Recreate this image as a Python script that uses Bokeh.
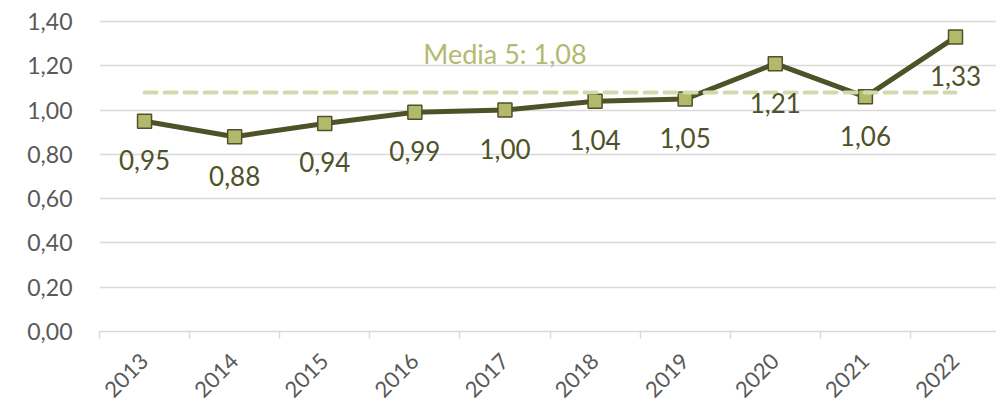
from bokeh.plotting import figure
from bokeh.models import Range1d, FixedTicker, ColumnDataSource, Label
from bokeh.core.properties import value
from bokeh.embed import file_html
from bokeh.resources import INLINE
import math

years = [2013, 2014, 2015, 2016, 2017, 2018, 2019, 2020, 2021, 2022]
values = [0.95, 0.88, 0.94, 0.99, 1.00, 1.04, 1.05, 1.21, 1.06, 1.33]
mean_value = 1.08
mean_label = "Media 5: 1,08"
mean_label_pos = (2017, 1.255)
y_ticks = [0.0, 0.2, 0.4, 0.6, 0.8, 1.0, 1.2, 1.4]
y_tick_labels = ["0,00", "0,20", "0,40", "0,60", "0,80", "1,00", "1,20", "1,40"]

FONT = "Lato"
DARK = "#4f5229"
LIGHT_FILL = "#b3b96a"
MEAN_COLOR = "#d4d9ad"
MEAN_TEXT = "#b3ba6f"
GRID = "#d9d9d9"
AXIS_TEXT = "#595959"

labels = [f"{v:.2f}".replace(".", ",") for v in values]
src = ColumnDataSource(dict(x=years, y=values, lab=labels))

p = figure(width=996, height=407, output_backend="svg", toolbar_location=None,
           x_range=Range1d(2012.5, 2022.455), y_range=Range1d(0, 1.45),
           min_border_left=99, min_border_right=0, min_border_top=10, min_border_bottom=76)
p.outline_line_color = None
p.background_fill_color = "white"
p.border_fill_color = "white"

# y axis
p.yaxis.ticker = FixedTicker(ticks=y_ticks)
p.yaxis.major_label_overrides = {t: l for t, l in zip(y_ticks, y_tick_labels)}
p.yaxis.axis_line_color = None
p.yaxis.major_tick_line_color = None
p.yaxis.minor_tick_line_color = None
p.yaxis.major_label_standoff = 21
p.yaxis.major_label_text_font = FONT
p.yaxis.major_label_text_font_size = "23px"
p.yaxis.major_label_text_color = AXIS_TEXT
p.ygrid.ticker = FixedTicker(ticks=y_ticks[1:])
p.ygrid.grid_line_color = GRID
p.ygrid.grid_line_width = 1.5
p.xgrid.grid_line_color = None

# x axis
boundaries = [y - 0.5 for y in years] + [years[-1] + 0.5]
p.xaxis.ticker = FixedTicker(ticks=years, minor_ticks=boundaries)
p.xaxis.major_label_overrides = {y: str(y) for y in years}
p.xaxis.axis_line_color = GRID
p.xaxis.axis_line_width = 1.5
p.xaxis.major_tick_line_color = None
p.xaxis.minor_tick_line_color = GRID
p.xaxis.minor_tick_line_width = 1.5
p.xaxis.minor_tick_in = 0
p.xaxis.minor_tick_out = 7
p.xaxis.major_label_orientation = math.pi / 4
p.xaxis.major_label_standoff = 19
p.xaxis.major_label_text_font = FONT
p.xaxis.major_label_text_font_size = "22px"
p.xaxis.major_label_text_color = AXIS_TEXT

# series
p.line("x", "y", source=src, line_color=DARK, line_width=5)
p.scatter("x", "y", source=src, marker="square", size=14, fill_color=LIGHT_FILL,
          line_color=DARK, line_width=1.5)

# mean line
p.line([years[0], years[-1]], [mean_value, mean_value], line_color=MEAN_COLOR,
       line_width=4, line_dash="12 8", line_cap="round")

# data labels
p.text("x", "y", text="lab", source=src, y_offset=39, text_align="center",
       text_baseline="middle", text_font=value(FONT), text_font_size="26px",
       text_color=DARK)

p.add_layout(Label(x=mean_label_pos[0], y=mean_label_pos[1], text=mean_label,
                   text_align="center", text_baseline="middle", text_font=FONT,
                   text_font_size="27px", text_color=MEAN_TEXT))

open("out.html", "w").write(file_html(p, INLINE))
